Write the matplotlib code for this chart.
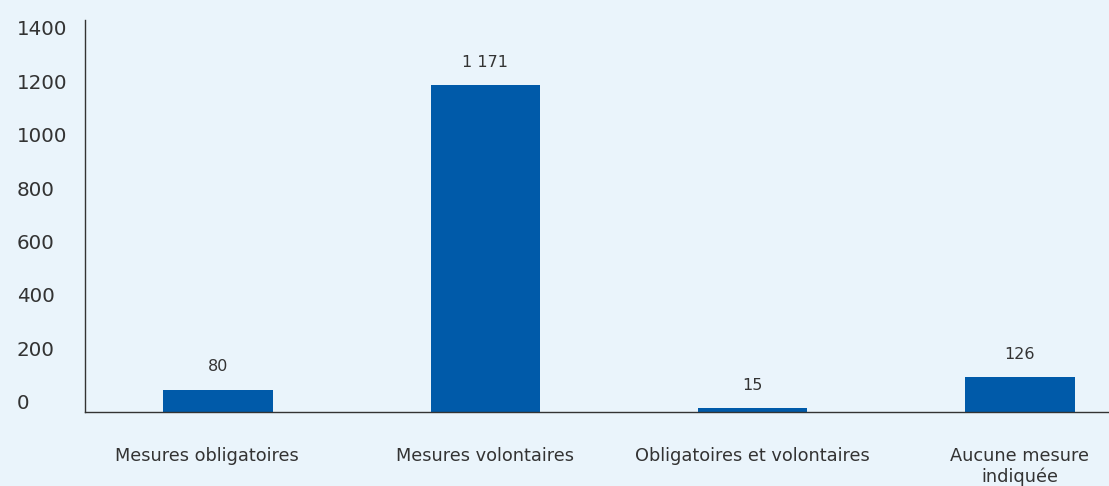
import matplotlib
matplotlib.use("Agg")
import matplotlib.pyplot as plt
import matplotlib.transforms as mtransforms
import numpy as np

# data
categories = ["Mesures obligatoires", "Mesures volontaires",
              "Obligatoires et volontaires", "Aucune mesure\nindiquée"]
values = [80, 1171, 15, 126]
value_labels = ["80", "1 171", "15", "126"]
tick_values = [0, 200, 400, 600, 800, 1000, 1200, 1400]

bg = "#eaf4fb"
bar_color = "#005aa9"
text_color = "#333333"

plt.rcParams["font.family"] = ["DejaVu Sans"]

fig = plt.figure(figsize=(11.09, 4.86), dpi=100, facecolor=bg)
ax = fig.add_axes([85 / 1109, 74 / 486, 1 - 85 / 1109, 392 / 486])
ax.set_facecolor(bg)

x = np.arange(len(categories))
ax.bar(x, values, width=0.41, color=bar_color)

for xi, v, lab in zip(x, values, value_labels):
    ax.annotate(lab, (xi, v), xytext=(0, 11), textcoords="offset points",
                ha="center", va="bottom", fontsize=11.5, color=text_color)

ax.set_xlim(-0.498, 3.333)
ax.set_ylim(0, 1405)

# the original's y labels sit on a slightly different scale than the bars
tick_pos = np.array(tick_values) * 0.957 + 37
ax.set_yticks(tick_pos)
ax.set_yticklabels([str(t) for t in tick_values])
ax.tick_params(axis="y", length=0, pad=49, labelsize=14.3, labelcolor=text_color)
for lab in ax.get_yticklabels():
    lab.set_horizontalalignment("left")

ax.set_xticks(x)
ax.set_xticklabels(categories, va="top", linespacing=1.2)
ax.tick_params(axis="x", length=0, pad=25, labelsize=12.8, labelcolor=text_color)
# first category label sits a little left of its bar in the original
first = ax.get_xticklabels()[0]
first.set_transform(first.get_transform() +
                    mtransforms.ScaledTranslation(-11 / 100, 0, fig.dpi_scale_trans))

for s in ["top", "right"]:
    ax.spines[s].set_visible(False)
for s in ["left", "bottom"]:
    ax.spines[s].set_color(text_color)
    ax.spines[s].set_linewidth(1.0)

fig.savefig("out.png", dpi=100, facecolor=bg)
